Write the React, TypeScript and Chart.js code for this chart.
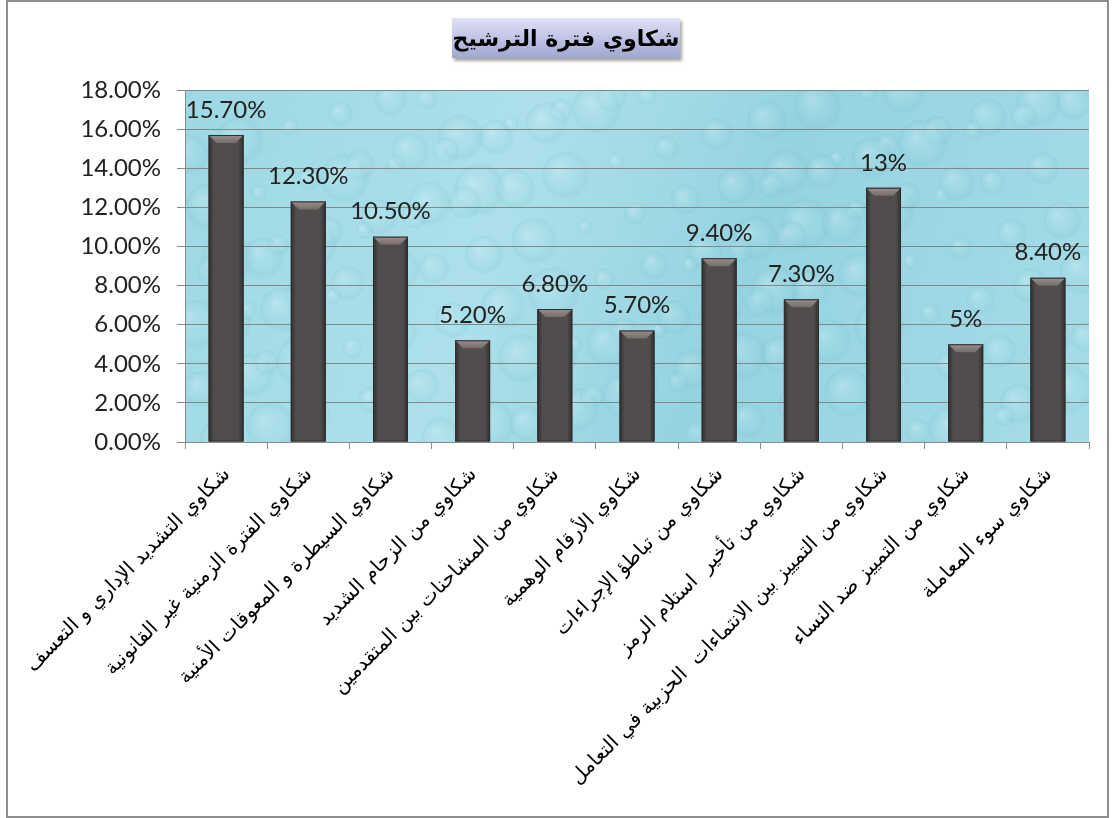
import React, { useEffect, useRef } from "react";
import { Chart, registerables } from "chart.js";

Chart.register(...registerables);

const titleText = "شكاوي فترة الترشيح";

const categories = [
  "شكاوي التشديد الإداري و التعسف",
  "شكاوي الفترة الزمنية غير القانونية",
  "شكاوي السيطرة و المعوقات الأمنية",
  "شكاوي من الزحام الشديد",
  "شكاوي من المشاحنات بين المتقدمين",
  "شكاوي الأرقام الوهمية",
  "شكاوي من تباطؤ الإجراءات",
  "شكاوي من تأخير  استلام الرمز",
  "شكاوي من التمييز بين الانتماءات  الحزبية في التعامل",
  "شكاوي من التمييز ضد النساء",
  "شكاوي سوء المعاملة",
];

const values = [15.7, 12.3, 10.5, 5.2, 6.8, 5.7, 9.4, 7.3, 13, 5, 8.4];

const valueLabels = [
  "15.70%",
  "12.30%",
  "10.50%",
  "5.20%",
  "6.80%",
  "5.70%",
  "9.40%",
  "7.30%",
  "13%",
  "5%",
  "8.40%",
];

const yMin = 0;
const yMax = 18;
const yStep = 2;

const CANVAS_W = 1113;
const CANVAS_H = 818;
const AREA_LEFT = 185;
const AREA_RIGHT = 1089;
const AREA_TOP = 90;
const AREA_BOTTOM = 442;

const bgPlugin = {
  id: "waterBg",
  beforeDraw(chart: any) {
    const { ctx, chartArea } = chart;
    if (!chartArea) return;
    const { left, top, right, bottom } = chartArea;
    ctx.save();
    const g = ctx.createLinearGradient(left, top, right, bottom);
    g.addColorStop(0, "#9dd8e4");
    g.addColorStop(0.35, "#ade0ea");
    g.addColorStop(0.6, "#96d3e0");
    g.addColorStop(1, "#a6dce8");
    ctx.fillStyle = g;
    ctx.fillRect(left, top, right - left, bottom - top);
    ctx.beginPath();
    ctx.rect(left, top, right - left, bottom - top);
    ctx.clip();
    const w = right - left;
    const h = bottom - top;
    for (let i = 0; i < 160; i++) {
      const fx = (i * 0.6180339) % 1;
      const fy = (i * 0.7548776) % 1;
      const cx = left + fx * w;
      const cy = top + fy * h;
      const r = 8 + ((i * 37) % 20);
      const rg = ctx.createRadialGradient(cx - r * 0.3, cy - r * 0.3, 1, cx, cy, r);
      rg.addColorStop(0, "rgba(225,246,250,0.3)");
      rg.addColorStop(0.6, "rgba(170,222,232,0.12)");
      rg.addColorStop(0.85, "rgba(110,185,200,0.16)");
      rg.addColorStop(1, "rgba(110,185,200,0.0)");
      ctx.fillStyle = rg;
      ctx.beginPath();
      ctx.ellipse(cx, cy, r * 1.5, r, (i % 5) * 0.6, 0, Math.PI * 2);
      ctx.fill();
    }
    ctx.restore();
  },
};

const bevelPlugin = {
  id: "bevelBars",
  afterDatasetsDraw(chart: any) {
    const { ctx } = chart;
    const meta = chart.getDatasetMeta(0);
    ctx.save();
    meta.data.forEach((bar: any) => {
      const p = bar.getProps(["x", "y", "base", "width"], true);
      const l = p.x - p.width / 2;
      const r = p.x + p.width / 2;
      const t = p.y;
      const b = p.base;
      const bv = 8;
      const sg = ctx.createLinearGradient(l, 0, r, 0);
      sg.addColorStop(0, "rgba(25,25,25,0.6)");
      sg.addColorStop(0.15, "rgba(25,25,25,0)");
      sg.addColorStop(0.85, "rgba(25,25,25,0)");
      sg.addColorStop(1, "rgba(25,25,25,0.6)");
      ctx.fillStyle = sg;
      ctx.fillRect(l, t, r - l, b - t);
      ctx.beginPath();
      ctx.moveTo(l, t);
      ctx.lineTo(r, t);
      ctx.lineTo(r - bv, t + bv);
      ctx.lineTo(l + bv, t + bv);
      ctx.closePath();
      const tg = ctx.createLinearGradient(0, t, 0, t + bv);
      tg.addColorStop(0, "#9a8f8f");
      tg.addColorStop(1, "#756c6c");
      ctx.fillStyle = tg;
      ctx.fill();
      ctx.strokeStyle = "#2e2e2e";
      ctx.lineWidth = 1;
      ctx.strokeRect(l + 0.5, t + 0.5, r - l - 1, b - t - 1);
    });
    ctx.restore();
  },
};

const valueLabelPlugin = {
  id: "valueLabels",
  afterDatasetsDraw(chart: any) {
    const { ctx } = chart;
    const meta = chart.getDatasetMeta(0);
    ctx.save();
    ctx.font = "24px Lato, 'Open Sans', sans-serif";
    ctx.fillStyle = "#222222";
    ctx.textAlign = "center";
    ctx.textBaseline = "middle";
    meta.data.forEach((bar: any, i: number) => {
      const p = bar.getProps(["x", "y"], true);
      ctx.fillText(valueLabels[i], p.x, p.y - 25);
    });
    ctx.restore();
  },
};

function ChartView() {
  const ref = useRef<HTMLCanvasElement | null>(null);
  useEffect(() => {
    if (!ref.current) return;
    const chart = new Chart(ref.current, {
      type: "bar",
      data: {
        labels: categories,
        datasets: [
          {
            data: values,
            backgroundColor: "#514d4d",
            borderWidth: 0,
            barPercentage: 0.425,
            categoryPercentage: 1,
          },
        ],
      },
      options: {
        animation: false,
        responsive: false,
        maintainAspectRatio: false,
        events: [],
        layout: {
          padding: { top: AREA_TOP, right: CANVAS_W - AREA_RIGHT, left: 0, bottom: 0 },
        },
        plugins: {
          legend: { display: false },
          tooltip: { enabled: false },
          title: { display: false },
        },
        scales: {
          x: {
            grid: {
              display: true,
              drawOnChartArea: false,
              drawTicks: true,
              tickLength: 7,
              color: "#8a8a8a",
              offset: true,
            },
            border: { display: true, color: "#8a8a8a" },
            ticks: {
              autoSkip: false,
              minRotation: 45,
              maxRotation: 45,
              padding: 14,
              labelOffset: 1,
              color: "#000000",
              font: { family: "'DejaVu Sans', sans-serif", size: 20 },
            },
            afterFit(scale: any) {
              scale.height = CANVAS_H - AREA_BOTTOM;
              scale.paddingLeft = 0;
              scale.paddingRight = 0;
            },
          },
          y: {
            min: yMin,
            max: yMax,
            ticks: {
              stepSize: yStep,
              padding: 16,
              color: "#222222",
              font: { family: "Lato, 'Open Sans', sans-serif", size: 24 },
              callback: (v: any) => Number(v).toFixed(2) + "%",
            },
            grid: {
              color: "#7c8a8c",
              tickLength: 8,
              drawTicks: true,
            },
            border: { display: true, color: "#8a8a8a" },
            afterFit(scale: any) {
              scale.width = AREA_LEFT;
            },
          },
        },
      },
      plugins: [bgPlugin, bevelPlugin, valueLabelPlugin],
    });
    return () => chart.destroy();
  }, []);
  return <canvas ref={ref} width={CANVAS_W} height={CANVAS_H} style={{ position: "absolute", left: 0, top: 0 }} />;
}

export default function App() {
  return (
    <div style={{ position: "absolute", left: 0, top: 0, width: CANVAS_W, height: CANVAS_H, background: "#ffffff", overflow: "hidden" }}>
      <div
        style={{
          position: "absolute",
          left: 6,
          top: 0,
          width: 1099,
          height: 814,
          border: "2px solid #8e8e8e",
          boxSizing: "content-box",
        }}
      />
      <ChartView />
      <div
        dir="rtl"
        style={{
          position: "absolute",
          left: 452,
          top: 18,
          width: 228,
          height: 40,
          background: "linear-gradient(to bottom, #e2e2f4 0%, #c3c6e6 45%, #a0a8d0 100%)",
          boxShadow: "2px 3px 3px rgba(0,0,0,0.35)",
          display: "flex",
          alignItems: "center",
          justifyContent: "center",
          fontFamily: "'DejaVu Sans', sans-serif",
          fontWeight: "bold",
          fontSize: 22,
          color: "#000",
          whiteSpace: "nowrap",
        }}
      >
        {titleText}
      </div>
    </div>
  );
}
